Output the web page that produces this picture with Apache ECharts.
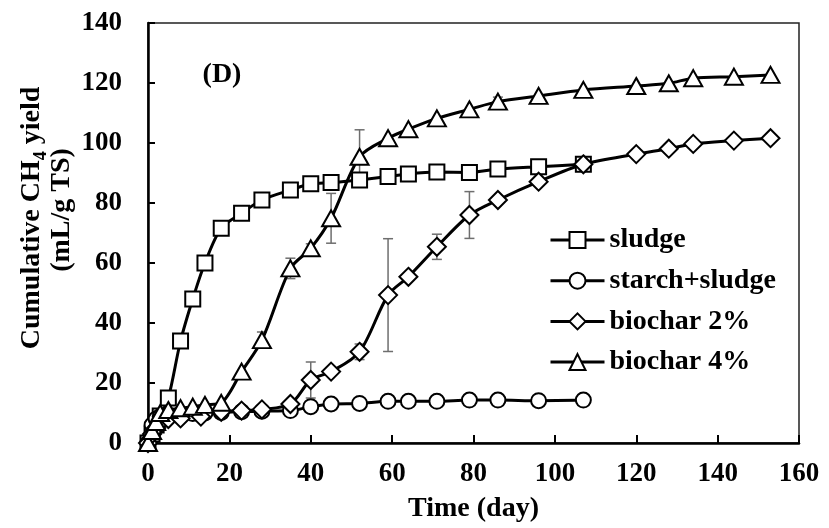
<!DOCTYPE html>
<html>
<head>
<meta charset="utf-8">
<script src="https://cdn.jsdelivr.net/npm/echarts@6/dist/echarts.min.js"></script>
<style>html,body{margin:0;padding:0;background:#fff}#c{width:829px;height:528px}</style>
</head>
<body>
<div id="c"></div>
<script>
// ---- data ----
const xTicks = [0, 20, 40, 60, 80, 100, 120, 140, 160];
const yTicks = [0, 20, 40, 60, 80, 100, 120, 140];

const sludgeDays = [0, 1, 2, 3, 5, 8, 11, 14, 18, 23, 28, 35, 40, 45, 52, 59, 64, 71, 79, 86, 96, 107];
const sludgeVals = [0, 3, 6, 9, 15, 34, 48, 60, 71.6, 76.6, 81, 84.3, 86.4, 86.8, 87.7, 88.8, 89.7, 90.3, 90.2, 91.3, 92.1, 92.9];

const starchDays = [0, 1, 2, 3, 5, 8, 11, 14, 18, 23, 28, 35, 40, 45, 52, 59, 64, 71, 79, 86, 96, 107];
const starchVals = [0, 6, 8, 8.8, 9.2, 9.5, 9.8, 10, 10.2, 10.4, 10.6, 10.8, 12.1, 13, 13.2, 13.9, 13.9, 13.9, 14.3, 14.3, 14.1, 14.3];

const bio2Days = [0, 1, 2, 3, 5, 8, 13, 18, 23, 28, 35, 40, 45, 52, 59, 64, 71, 79, 86, 96, 107, 120, 128, 134, 144, 153];
const bio2Vals = [0, 3, 5, 7, 8, 8.2, 8.8, 10.4, 10.8, 11.2, 13, 21, 23.8, 30.4, 49.3, 55.4, 65.4, 76, 81, 87.1, 92.9, 96.3, 98.1, 99.7, 100.8, 101.6];
const bio2Err  = [0, 0, 0, 0, 0, 0, 0, 0, 0, 0, 0, 6, 0, 2.6, 18.8, 0, 4.2, 7.8, 0, 0, 0, 0, 0, 0, 0, 0];

const bio4Days = [0, 1, 2, 3, 5, 8, 11, 14, 18, 23, 28, 35, 40, 45, 52, 59, 64, 71, 79, 86, 96, 107, 120, 128, 134, 144, 153];
const bio4Vals = [0, 4, 7, 10, 11, 11.6, 12.1, 12.7, 13.4, 23.8, 34.3, 58.2, 64.9, 74.9, 95.4, 101.6, 104.6, 108.2, 111.2, 113.8, 115.7, 117.7, 119, 119.9, 121.6, 122.1, 122.7];
const bio4Err  = [0, 0, 0, 0, 0, 0, 0, 0, 0, 0, 2.7, 3.4, 1.5, 8.3, 9, 0, 0, 0, 0, 1.5, 0, 0, 0, 0, 0, 0, 0];

const seriesNames = ['sludge', 'starch+sludge', 'biochar 2%', 'biochar 4%'];

// ---- chart ----
const FONT = '"Liberation Serif", "Times New Roman", serif';
const pairs = (d, v) => d.map((x, i) => [x, v[i]]);
const errData = (d, v, e) => d.map((x, i) => [x, v[i] - e[i], v[i] + e[i], e[i]]).filter(r => r[3] > 0);

function lineSeries(name, d, v, symbol, size) {
  return {
    name, type: 'line', data: pairs(d, v), symbol, symbolSize: size,
    smooth: 0.3, z: 3,
    lineStyle: { color: '#000', width: 3 },
    itemStyle: { color: '#fff', borderColor: '#000', borderWidth: 2 },
    emphasis: { disabled: true }, animation: false
  };
}
function errSeries(d, v, e) {
  return {
    type: 'custom', z: 1, silent: true, animation: false,
    data: errData(d, v, e),
    encode: { x: 0, y: [1, 2] },
    renderItem: (params, api) => {
      const x = api.value(0);
      const top = api.coord([x, api.value(2)]);
      const bot = api.coord([x, api.value(1)]);
      const w = 5, st = { stroke: '#6e6e6e', lineWidth: 1.5 };
      return { type: 'group', children: [
        { type: 'line', shape: { x1: top[0], y1: top[1], x2: bot[0], y2: bot[1] }, style: st },
        { type: 'line', shape: { x1: top[0] - w, y1: top[1], x2: top[0] + w, y2: top[1] }, style: st },
        { type: 'line', shape: { x1: bot[0] - w, y1: bot[1], x2: bot[0] + w, y2: bot[1] }, style: st }
      ]};
    }
  };
}

const chart = echarts.init(document.getElementById('c'), null, { renderer: 'canvas' });
chart.setOption({
  animation: false,
  backgroundColor: '#fff',
  grid: { left: 148, top: 23, right: 30, bottom: 85, show: true, borderColor: '#222', borderWidth: 1.5,
          containLabel: false, outerBoundsMode: 'none' },
  xAxis: {
    type: 'value', min: xTicks[0], max: xTicks[xTicks.length - 1], interval: 20,
    name: 'Time (day)', nameLocation: 'middle', nameGap: 52,
    nameTextStyle: { fontFamily: FONT, fontWeight: 'bold', fontSize: 28, color: '#000' },
    axisLine: { lineStyle: { color: '#000', width: 2.5 } },
    axisTick: { inside: true, length: 8, lineStyle: { color: '#000', width: 2 } },
    axisLabel: { fontFamily: FONT, fontWeight: 'bold', fontSize: 27, color: '#000', margin: 18 },
    splitLine: { show: false }
  },
  yAxis: {
    type: 'value', min: yTicks[0], max: yTicks[yTicks.length - 1], interval: 20,
    axisLine: { show: true, lineStyle: { color: '#000', width: 2.5 } },
    axisTick: { show: true, inside: true, length: 7, lineStyle: { color: '#000', width: 2 } },
    axisLabel: { fontFamily: FONT, fontWeight: 'bold', fontSize: 27, color: '#000', margin: 26 },
    splitLine: { show: false }
  },
  legend: {
    data: seriesNames, orient: 'vertical', left: 549, top: 226, padding: 0,
    itemWidth: 54, itemHeight: 20, itemGap: 12.7,
    lineStyle: { width: 3, color: '#000' },
    itemStyle: { color: '#fff', borderColor: '#000', borderWidth: 2 },
    textStyle: { fontFamily: FONT, fontWeight: 'bold', fontSize: 28, color: '#000', lineHeight: 28 }
  },
  graphic: [
    { type: 'text', x: 222, y: 75, style: { text: '(D)', font: 'bold 28px ' + FONT, fill: '#000', align: 'center', verticalAlign: 'middle' } },
    { type: 'text', x: 31, y: 218, rotation: Math.PI / 2, style: {
        text: '{a|Cumulative CH}{s|4}{a| yield}', fill: '#000', align: 'center', verticalAlign: 'middle',
        rich: {
          a: { fontFamily: FONT, fontWeight: 'bold', fontSize: 28, lineHeight: 30, verticalAlign: 'bottom' },
          s: { fontFamily: FONT, fontWeight: 'bold', fontSize: 18, lineHeight: 30, verticalAlign: 'bottom', padding: [0, 0, -4, 0] }
        } } },
    { type: 'text', x: 62, y: 210, rotation: Math.PI / 2, style: { text: '(mL/g TS)', font: 'bold 28px ' + FONT, fill: '#000', align: 'center', verticalAlign: 'middle' } }
  ],
  series: [
    errSeries(bio2Days, bio2Vals, bio2Err),
    errSeries(bio4Days, bio4Vals, bio4Err),
    lineSeries(seriesNames[0], sludgeDays, sludgeVals, 'rect', 15),
    lineSeries(seriesNames[1], starchDays, starchVals, 'circle', 15),
    lineSeries(seriesNames[2], bio2Days, bio2Vals, 'diamond', [18, 18]),
    lineSeries(seriesNames[3], bio4Days, bio4Vals, 'triangle', [18, 16])
  ]
});
</script>
</body>
</html>
